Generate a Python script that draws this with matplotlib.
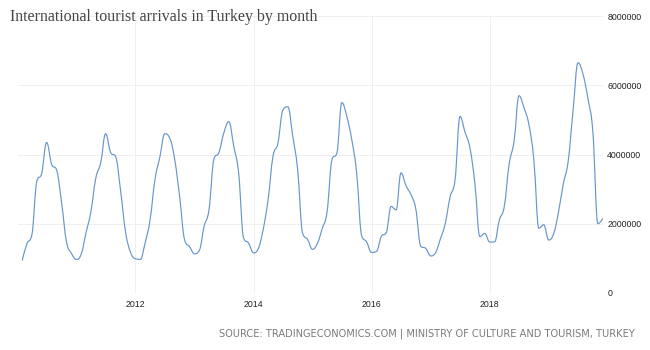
import matplotlib
matplotlib.use("Agg")
import matplotlib.pyplot as plt
import matplotlib.dates as mdates
from matplotlib.path import Path
from matplotlib.patches import PathPatch
from matplotlib.ticker import FixedLocator, FuncFormatter
import numpy as np
import pandas as pd


# Monthly international arrivals, Feb 2010 .. Dec 2019 (persons)
ARRIVALS_2010 = [950000, 1420000, 1680000, 3220000, 3460000, 4350000,
                 3720000, 3550000, 2640000, 1480000, 1150000]
ARRIVALS_2011 = [970000, 1130000, 1720000, 2350000, 3310000, 3770000,
                 4600000, 4060000, 3940000, 2980000, 1770000, 1190000]
ARRIVALS_2012 = [990000, 970000, 1440000, 2110000, 3270000, 3940000,
                 4600000, 4470000, 3840000, 2780000, 1530000, 1340000]
ARRIVALS_2013 = [1130000, 1240000, 1920000, 2420000, 3870000, 4060000,
                 4620000, 4950000, 4230000, 3460000, 1580000, 1440000]
ARRIVALS_2014 = [1160000, 1300000, 1820000, 2690000, 3940000, 4330000,
                 5280000, 5380000, 4520000, 3550000, 1720000, 1550000]
ARRIVALS_2015 = [1260000, 1440000, 1850000, 2350000, 3850000, 4050000,
                 5500000, 5100000, 4420000, 3460000, 1650000, 1480000]
ARRIVALS_2016 = [1170000, 1200000, 1630000, 1740000, 2500000, 2400000,
                 3470000, 3100000, 2840000, 2420000, 1340000, 1290000]
ARRIVALS_2017 = [1070000, 1170000, 1550000, 2010000, 2780000, 3290000,
                 5100000, 4650000, 4180000, 3170000, 1630000, 1720000]
ARRIVALS_2018 = [1470000, 1480000, 2100000, 2500000, 3720000, 4400000,
                 5700000, 5350000, 4850000, 3840000, 1870000, 1970000]
ARRIVALS_2019 = [1530000, 1720000, 2300000, 3150000, 3800000, 5300000,
                 6650000, 6320000, 5600000, 4650000, 2000000, 2150000]

FIRST_MONTH = "2010-02-01"
Y_TICKS = [0, 2000000, 4000000, 6000000, 8000000]
X_TICK_YEARS = [2012, 2014, 2016, 2018]

TITLE = "International tourist arrivals in Turkey by month"
SOURCE = "SOURCE: TRADINGECONOMICS.COM | MINISTRY OF CULTURE AND TOURISM, TURKEY"

LINE_COLOR = "#6895cc"
GRID_COLOR = "#efefef"


def spline_path(xs, ys, smoothing=1.5):
    # bezier spline through every point, control points kept from overshooting
    n = len(xs)
    left = [(xs[0], ys[0])] * n
    right = [(xs[-1], ys[-1])] * n
    denom = smoothing + 1
    for i in range(1, n - 1):
        x, y = xs[i], ys[i]
        lx, ly = xs[i - 1], ys[i - 1]
        nx, ny = xs[i + 1], ys[i + 1]
        lcx = (smoothing * x + lx) / denom
        lcy = (smoothing * y + ly) / denom
        rcx = (smoothing * x + nx) / denom
        rcy = (smoothing * y + ny) / denom
        if rcx != lcx:
            corr = (rcy - lcy) * (rcx - x) / (rcx - lcx) + y - rcy
            lcy += corr
            rcy += corr
        if lcy > ly and lcy > y:
            lcy = max(ly, y)
            rcy = 2 * y - lcy
        elif lcy < ly and lcy < y:
            lcy = min(ly, y)
            rcy = 2 * y - lcy
        if rcy > ny and rcy > y:
            rcy = max(ny, y)
            lcy = 2 * y - rcy
        elif rcy < ny and rcy < y:
            rcy = min(ny, y)
            lcy = 2 * y - rcy
        left[i] = (lcx, lcy)
        right[i] = (rcx, rcy)
    right[0] = (xs[0], ys[0])
    left[-1] = (xs[-1], ys[-1])

    verts = [(xs[0], ys[0])]
    codes = [Path.MOVETO]
    for i in range(1, n):
        verts += [right[i - 1], left[i], (xs[i], ys[i])]
        codes += [Path.CURVE4] * 3
    return Path(verts, codes)


def main():
    values = (ARRIVALS_2010 + ARRIVALS_2011 + ARRIVALS_2012 + ARRIVALS_2013
              + ARRIVALS_2014 + ARRIVALS_2015 + ARRIVALS_2016 + ARRIVALS_2017
              + ARRIVALS_2018 + ARRIVALS_2019)
    dates = pd.date_range(FIRST_MONTH, periods=len(values), freq="MS")
    xs = mdates.date2num(dates.to_pydatetime())
    ys = np.array(values, dtype=float)

    fig = plt.figure(figsize=(6.5, 3.5), dpi=100)
    ax = fig.add_axes([0.0277, 0.163, 0.9, 0.791])

    patch = PathPatch(spline_path(xs, ys), fill=False, edgecolor=LINE_COLOR,
                      linewidth=0.85, capstyle="round", joinstyle="round")
    ax.add_patch(patch)

    month = xs[1] - xs[0]
    ax.set_xlim(xs[0] - month * 0.96, xs[-1] + month * 0.06)
    ax.set_ylim(0, 8000000)

    tick_dates = [pd.Timestamp(f"{y}-01-01") for y in X_TICK_YEARS]
    ax.xaxis.set_major_locator(FixedLocator(mdates.date2num(tick_dates)))
    ax.xaxis.set_major_formatter(mdates.DateFormatter("%Y"))
    ax.yaxis.set_major_locator(FixedLocator(Y_TICKS))
    ax.yaxis.set_major_formatter(FuncFormatter(lambda v, _: f"{int(v)}"))
    ax.yaxis.tick_right()

    ax.tick_params(axis="both", length=0, labelsize=6.3, labelcolor="#222222")
    ax.tick_params(axis="y", pad=3)
    ax.tick_params(axis="x", pad=5)
    for label in ax.get_xticklabels() + ax.get_yticklabels():
        label.set_family("Liberation Sans")

    ax.grid(True, color=GRID_COLOR, linewidth=0.7)
    ax.set_axisbelow(True)
    for spine in ax.spines.values():
        spine.set_visible(False)

    fig.text(10 / 650, 1 - 17 / 350, TITLE, family="Liberation Serif",
             fontsize=11.4, color="#444444", ha="left", va="center")
    fig.text(635 / 650, 1 - 334 / 350, SOURCE, family="DejaVu Sans",
             fontsize=7.1, color="#7a7a7a", ha="right", va="center")

    fig.savefig("out.png", dpi=100)
    plt.close(fig)


if __name__ == "__main__":
    main()
